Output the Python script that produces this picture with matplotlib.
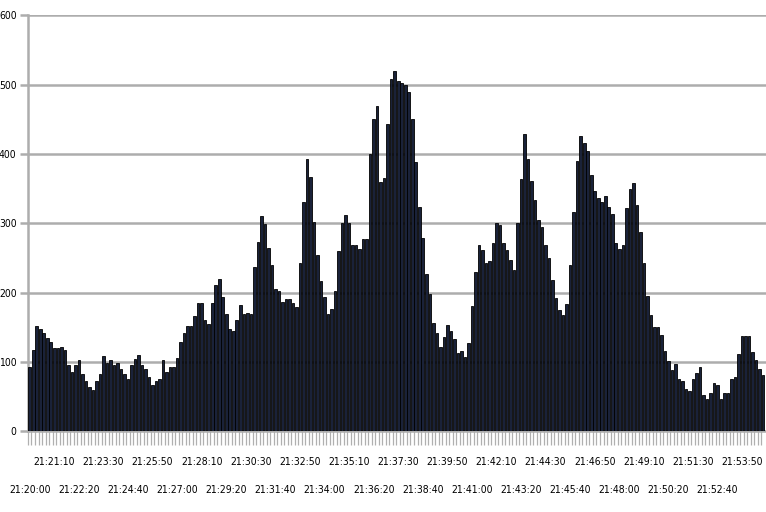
import matplotlib
matplotlib.use("Agg")
import matplotlib.pyplot as plt
from matplotlib import font_manager
import numpy as np

# values, one per 10 s from 21:20:00
valeurs = [
    92, 117, 152, 148, 142, 134, 129, 120, 120, 122,
    117, 96, 86, 96, 102, 83, 72, 63, 60, 72,
    83, 108, 99, 102, 96, 99, 89, 83, 75, 96,
    104, 110, 96, 89, 78, 66, 72, 75, 102, 86,
    92, 92, 105, 128, 142, 151, 151, 166, 185, 185,
    160, 154, 185, 211, 219, 193, 169, 148, 145, 160,
    182, 169, 171, 169, 237, 273, 310, 299, 264, 240,
    205, 202, 187, 190, 190, 185, 179, 242, 331, 393,
    367, 302, 254, 216, 193, 169, 176, 202, 260, 300,
    312, 300, 269, 269, 263, 277, 277, 400, 451, 469,
    360, 366, 443, 508, 519, 505, 502, 499, 489, 451,
    389, 324, 278, 227, 198, 156, 141, 121, 136, 153,
    144, 133, 112, 115, 107, 127, 181, 230, 269, 261,
    242, 245, 272, 301, 298, 272, 261, 247, 233, 301,
    364, 429, 393, 361, 333, 304, 295, 269, 250, 218,
    192, 175, 168, 184, 239, 316, 390, 426, 416, 404,
    369, 346, 336, 330, 340, 324, 313, 272, 263, 269,
    322, 349, 358, 327, 287, 242, 195, 168, 150, 150,
    139, 115, 101, 88, 97, 75, 72, 61, 58, 75,
    84, 92, 52, 46, 55, 69, 66, 46, 55, 55,
    75, 78, 111, 137, 137, 137, 114, 102, 89, 81,
]
debut = 21 * 3600 + 20 * 60
pas = 10
pas_etiquette = 7
graduations_y = [0, 100, 200, 300, 400, 500, 600]

def heure(sec):
    h = sec // 3600
    m = (sec % 3600) // 60
    s = sec % 60
    return "%d:%02d:%02d" % (h, m, s)

# a narrow font if one is installed, otherwise plain Liberation Sans
police = font_manager.FontProperties(family="Liberation Sans", size=10)
for f in font_manager.fontManager.ttflist:
    nom = (f.name + " " + f.fname).lower()
    if ("narrow" in nom or "condensed" in nom) and "bold" not in nom and "italic" not in nom \
            and "oblique" not in nom and "light" not in nom:
        police = font_manager.FontProperties(fname=f.fname, size=10)
        break

fig = plt.figure(figsize=(7.66, 5.12), dpi=100)
ax = fig.add_axes([0.0362, 0.158, 1 - 0.0362, 0.812])

# size the font so that one time label is ~42 px wide, as in the reference
rendu = fig.canvas.get_renderer()
essai = fig.text(0, 0, "21:20:00", fontproperties=police)
largeur = essai.get_window_extent(rendu).width
essai.remove()
police.set_size(10 * 42.0 / largeur)

x = np.arange(len(valeurs))
ax.bar(x, valeurs, width=0.74, color="#1a2239", edgecolor="black", linewidth=0.6, zorder=3)

ax.set_xlim(-0.57, 209.8)
ax.set_ylim(0, 600)
ax.set_yticks(graduations_y)
ax.set_yticklabels([str(v) for v in graduations_y], fontproperties=police)
ax.yaxis.grid(True, color="#adadad", linewidth=1.8, zorder=0)
ax.tick_params(axis="y", length=6, width=1.8, color="#adadad", pad=2)

# ticks between bars, labels every 70 s on two rows
ax.set_xticks(x - 0.5, minor=True)
ax.set_xticks([])
ax.tick_params(axis="x", which="minor", length=10, width=0.9, color="#b0b0b0")
for i in range(0, len(valeurs), pas_etiquette):
    rang = (i // pas_etiquette) % 2
    y = -0.0746 if rang == 1 else -0.142
    ax.text(i, y, heure(debut + i * pas), transform=ax.get_xaxis_transform(),
            ha="center", va="center", fontproperties=police)

for cote in ["top", "right"]:
    ax.spines[cote].set_visible(False)
ax.spines["left"].set_color("#adadad")
ax.spines["left"].set_linewidth(1.8)
ax.spines["bottom"].set_color("#adadad")
ax.spines["bottom"].set_linewidth(1.8)

fig.savefig("out.png", dpi=100)
